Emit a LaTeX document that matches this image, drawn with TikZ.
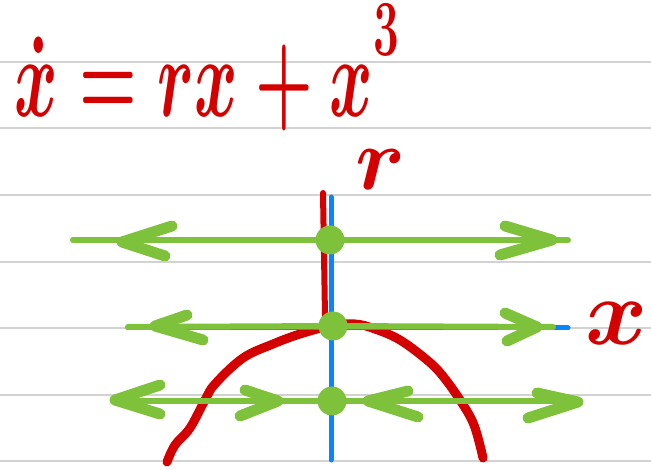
\documentclass[tikz,border=0pt]{standalone}
\usepackage{tikz}
\usetikzlibrary{positioning}
\definecolor{inkred}{RGB}{212,0,0}
\definecolor{inkgreen}{RGB}{125,194,58}
\definecolor{inkblue}{RGB}{10,132,255}
\definecolor{rulegray}{RGB}{210,210,210}

\begin{document}
\begin{tikzpicture}[
      x=1pt, y=-1pt,
      ruling/.style={draw=rulegray, line width=2pt},
      axis/.style={draw=inkblue, line width=5pt, line cap=round},
      curve/.style={draw=inkred, line width=9pt, line cap=round, line join=round},
      flow/.style={draw=inkgreen, line width=6pt, line cap=round},
      head/.style={draw=inkgreen, line width=11pt, line cap=round, line join=round},
      fixed/.style={circle, fill=inkgreen, minimum size=29pt, inner sep=0pt},
      ink/.style={text=inkred, font=\boldmath\Huge, inner sep=0pt}
    ]
    \useasboundingbox (0,0) rectangle (651,470);
    \foreach \y in {62,128,195,262,328,395,461}
      \draw[ruling] (0,\y) -- (651,\y);

    \node[ink, anchor=base west, xscale=2.65, yscale=4.6] (eqn) at (14,117)
      {$\dot{x} = rx + x^{\raisebox{0.4ex}{$\scriptscriptstyle 3$}}$};
    \node[ink, scale=3.6] (rlabel) at (381,170) {$r$};
    \node[ink, scale=3.8] (xlabel) at (617,323) {$x$};

    \draw[curve, line width=6pt] (323,193) -- (325,316);
    \draw[curve] plot[smooth, tension=0.6] coordinates {(167,462) (175,445) (190,428) (205,400)
      (215,384) (243,358) (273,344) (300,334) (330,326) (355,324) (375,329) (400,340)
      (427,360) (442,375) (460,400) (474,425) (483,458)};

    \coordinate (axtop) at (331,197);
    \coordinate (axbot) at (331,460);
    \coordinate (axleft) at (128,328);
    \coordinate (axright) at (568,328);
    \draw[axis] (axtop) -- (axbot);
    \draw[axis] (axleft) -- (axright);

    \node[fixed] (top) at (330,240) {};
    \node[fixed] (mid) at (333,326) {};
    \node[fixed] (bot) at (332,401) {};
    \coordinate (topw) at (73,240);
    \coordinate (tope) at (568,240);
    \coordinate (midw) at (128,327);
    \coordinate (mide) at (553,327);
    \coordinate (botw) at (113,401);
    \coordinate (bote) at (578,401);
    \draw[flow] (topw) -- (top) -- (tope);
    \draw[flow] (midw) -- (mid) -- (mide);
    \draw[flow] (botw) -- (bot) -- (bote);

    \draw[head] (172,226) -- (122,242) -- (165,256);
    \draw[head] (505,226) -- (552,240) -- (500,255);
    \draw[head] (187,315) -- (155,326) -- (203,340);
    \draw[head] (505,313) -- (537,327) -- (507,341);
    \draw[head] (160,385) -- (115,400) -- (160,414);
    \draw[head] (245,390) -- (278,401) -- (240,416);
    \draw[head] (408,391) -- (368,401) -- (418,417);
    \draw[head] (537,393) -- (578,402) -- (528,418);
  \end{tikzpicture}
\end{document}
